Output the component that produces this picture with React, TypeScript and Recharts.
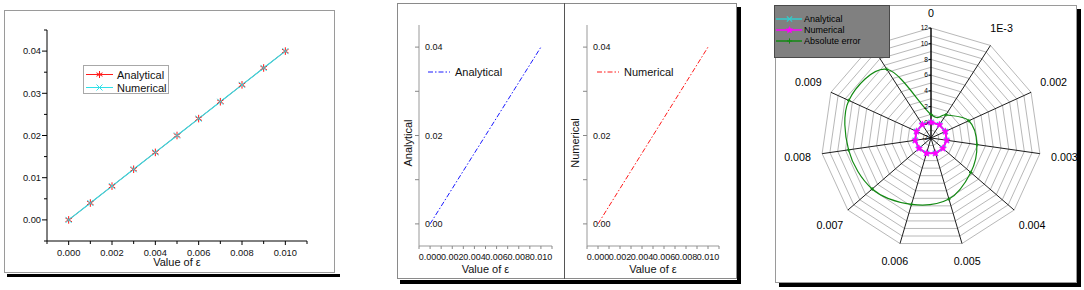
import React from 'react';
import {
  LineChart, Line, XAxis, YAxis, Legend,
  RadarChart, Radar, PolarGrid, PolarAngleAxis, PolarRadiusAxis,
} from 'recharts';

// ---------- data ----------
const epsValues = [0, 0.001, 0.002, 0.003, 0.004, 0.005, 0.006, 0.007, 0.008, 0.009, 0.01];
const analyticalValues = [0, 0.004, 0.008, 0.012, 0.016, 0.02, 0.024, 0.028, 0.032, 0.036, 0.04];
const numericalValues = [0, 0.004, 0.008, 0.012, 0.016, 0.02, 0.024, 0.028, 0.032, 0.036, 0.04];
const xTickValues = [-0.001, 0, 0.001, 0.002, 0.003, 0.004, 0.005, 0.006, 0.007, 0.008, 0.009, 0.01, 0.011];
const yTickValuesLeft = [-0.005, 0, 0.005, 0.01, 0.015, 0.02, 0.025, 0.03, 0.035, 0.04, 0.045];
const yTickValuesMid = [0, 0.01, 0.02, 0.03, 0.04];
const radarCategories = ['0', '1E-3', '0.002', '0.003', '0.004', '0.005', '0.006', '0.007', '0.008', '0.009', '0.01'];
const radarAnalytical = [0, 0.004, 0.008, 0.012, 0.016, 0.02, 0.024, 0.028, 0.032, 0.036, 0.04];
const radarNumerical = [0, 0.004, 0.008, 0.012, 0.016, 0.02, 0.024, 0.028, 0.032, 0.036, 0.04];
const radarAbsError = [1.0, 1.5, 3.3, 3.9, 4.7, 6.1, 6.8, 7.9, 8.6, 9.5, 8.4];

const lineData = epsValues.map((e, i) => ({ eps: e, analytical: analyticalValues[i], numerical: numericalValues[i] }));
const radarData = radarCategories.map((c, i) => ({
  cat: c, analytical: radarAnalytical[i], numerical: radarNumerical[i], absError: radarAbsError[i],
}));

const FONT = '"Liberation Sans", Arial, Helvetica, sans-serif';
const RED = '#ff1a1a';
const CYAN = '#2fe0e8';
const RCYAN = '#33cccc';
const MAGENTA = '#ff00ff';
const GREEN = '#138a13';

// ---------- markers ----------
const Asterisk = ({ cx, cy, r = 4, color = RED }: any) => (
  <g stroke={color} strokeWidth={1}>
    <line x1={cx} y1={cy - r} x2={cx} y2={cy + r} />
    <line x1={cx - r * 0.87} y1={cy - r / 2} x2={cx + r * 0.87} y2={cy + r / 2} />
    <line x1={cx - r * 0.87} y1={cy + r / 2} x2={cx + r * 0.87} y2={cy - r / 2} />
  </g>
);
const Cross = ({ cx, cy, r = 3.2, color = CYAN, w = 1 }: any) => (
  <g stroke={color} strokeWidth={w}>
    <line x1={cx - r} y1={cy - r} x2={cx + r} y2={cy + r} />
    <line x1={cx - r} y1={cy + r} x2={cx + r} y2={cy - r} />
  </g>
);
const Plus = ({ cx, cy, r = 2.5, color = GREEN }: any) => (
  <g stroke={color} strokeWidth={1}>
    <line x1={cx - r} y1={cy} x2={cx + r} y2={cy} />
    <line x1={cx} y1={cy - r} x2={cx} y2={cy + r} />
  </g>
);
const Star = ({ cx, cy, r = 3.6, color = MAGENTA }: any) => {
  const pts: string[] = [];
  for (let k = 0; k < 10; k++) {
    const rr = k % 2 === 0 ? r : r * 0.45;
    const a = (-90 + k * 36) * Math.PI / 180;
    pts.push(`${cx + rr * Math.cos(a)},${cy + rr * Math.sin(a)}`);
  }
  return <polygon points={pts.join(' ')} fill={color} stroke={color} strokeWidth={0.6} />;
};

// ---------- ticks panel 1 ----------
const isMajorX = (v: number) => { const k = Math.round(v * 1000); return k >= 0 && k <= 10 && k % 2 === 0; };
const XTick1 = (props: any) => {
  const { x, y, payload } = props;
  const major = isMajorX(payload.value);
  return (
    <g>
      <line x1={x} y1={y} x2={x} y2={y + (major ? 4 : 3)} stroke="#000" />
      {major && (
        <text x={x} y={y + 14.5} textAnchor="middle" fontSize={9.3} fontFamily={FONT} fill="#111">
          {payload.value.toFixed(3)}
        </text>
      )}
    </g>
  );
};
const YTick1 = (props: any) => {
  const { x, y, payload } = props;
  const k = Math.round(payload.value * 1000);
  const major = k >= 0 && k <= 40 && k % 10 === 0;
  return (
    <g>
      <line x1={x} y1={y} x2={x - (major ? 5 : 3)} y2={y} stroke="#000" />
      {major && (
        <text x={x - 6} y={y + 3.3} textAnchor="end" fontSize={9.3} fontFamily={FONT} fill="#111">
          {payload.value.toFixed(2)}
        </text>
      )}
    </g>
  );
};

// ---------- ticks panel 2 ----------
const XTick2 = (props: any) => {
  const { x, y, payload } = props;
  const major = isMajorX(payload.value);
  return (
    <g>
      <line x1={x} y1={y} x2={x} y2={y + 3} stroke="#888" />
      {major && (
        <text x={x} y={y + 14} textAnchor="middle" fontSize={9} fontFamily={FONT} fill="#111">
          {payload.value.toFixed(3)}
        </text>
      )}
    </g>
  );
};
const YTick2 = (props: any) => {
  const { x, y, payload } = props;
  const k = Math.round(payload.value * 1000);
  const labeled = k % 20 === 0;
  return (
    <g>
      <line x1={x} y1={y} x2={x - 4} y2={y} stroke="#888" />
      {labeled && (
        <text x={x + 6} y={y + 3.2} textAnchor="start" fontSize={9} fontFamily={FONT} fill="#111">
          {payload.value.toFixed(2)}
        </text>
      )}
    </g>
  );
};

const xTitle = (dyBase: number) => (props: any) => {
  const vb = props.viewBox || {};
  return (
    <text x={vb.x + vb.width / 2} y={vb.y + dyBase} textAnchor="middle" fontSize={11} fontFamily={FONT} fill="#111">
      Value of ε
    </text>
  );
};
const yTitle = (text: string) => (props: any) => {
  const vb = props.viewBox || {};
  const cx = vb.x + 10.5;
  const cy = vb.y + vb.height / 2 + 7.5;
  return (
    <text x={cx} y={cy + 4} transform={`rotate(-90 ${cx} ${cy})`} textAnchor="middle" fontSize={11} fontFamily={FONT} fill="#111">
      {text}
    </text>
  );
};

// ---------- radar ticks ----------
const charW: Record<string, number> = { '.': 0.278, E: 0.667, '-': 0.333 };
const textWidth = (s: string, fs: number) => s.split('').reduce((a, ch) => a + (charW[ch] ?? 0.556), 0) * fs;

const AngleTick = (props: any) => {
  const { x, y, payload } = props;
  const a = (payload.coordinate * Math.PI) / 180;
  const dx = Math.cos(a);
  const dy = -Math.sin(a);
  const fs = 10.7;
  const label = String(payload.value);
  const w = textWidth(label, fs);
  const h = fs * 0.75;
  const push = 3 + Math.abs(dx) * w / 2 + Math.abs(dy) * h / 2;
  return (
    <text x={x + dx * push} y={y + dy * push + fs * 0.36} textAnchor="middle" fontSize={fs} fontFamily={FONT} fill="#000">
      {label}
    </text>
  );
};
const RadiusTick = (props: any) => {
  const { x, y, payload } = props;
  const v = Math.round(payload.value);
  if (v % 2 !== 0) return <g />;
  return (
    <g>
      <line x1={x - 2.5} y1={y} x2={x} y2={y} stroke="#000" />
      <text x={x - 3} y={y + 2.3} textAnchor="end" fontSize={6.6} fontFamily={FONT} fill="#000">{v}</text>
    </g>
  );
};

const smoothShape = (props: any) => {
  const pts: { x: number; y: number }[] = props.points || [];
  const n = pts.length;
  if (!n) return <g />;
  let d = `M${pts[0].x},${pts[0].y}`;
  for (let i = 0; i < n; i++) {
    const p0 = pts[(i - 1 + n) % n];
    const p1 = pts[i];
    const p2 = pts[(i + 1) % n];
    const p3 = pts[(i + 2) % n];
    const c1x = p1.x + (p2.x - p0.x) / 6;
    const c1y = p1.y + (p2.y - p0.y) / 6;
    const c2x = p2.x - (p3.x - p1.x) / 6;
    const c2y = p2.y - (p3.y - p1.y) / 6;
    d += ` C${c1x},${c1y} ${c2x},${c2y} ${p2.x},${p2.y}`;
  }
  d += ' Z';
  return <path d={d} fill="none" stroke={GREEN} strokeWidth={1.2} />;
};

// ---------- legends ----------
const Legend1 = () => (
  <svg width={86} height={29} style={{ display: 'block' }}>
    <rect x={0.5} y={0.5} width={85} height={28} fill="#fff" stroke="#a8a8a8" />
    <line x1={3} y1={9.5} x2={30} y2={9.5} stroke={RED} />
    <Asterisk cx={16.5} cy={9.5} r={3.5} />
    <text x={34} y={13.5} fontSize={11} fontFamily={FONT} fill="#111">Analytical</text>
    <line x1={3} y1={22.5} x2={30} y2={22.5} stroke={CYAN} />
    <Cross cx={16.5} cy={22.5} r={3} />
    <text x={34} y={26.5} fontSize={11} fontFamily={FONT} fill="#111">Numerical</text>
  </svg>
);
const Legend2 = ({ text, color }: any) => (
  <svg width={110} height={14} style={{ display: 'block' }}>
    <line x1={0} y1={7} x2={22} y2={7} stroke={color} strokeDasharray="5 2 1.5 2" />
    <text x={27} y={11} fontSize={11} fontFamily={FONT} fill="#111">{text}</text>
  </svg>
);
const Legend3 = () => (
  <svg width={116} height={53} style={{ display: 'block' }}>
    <rect x={0.5} y={0.5} width={115} height={52} fill="#808080" stroke="#4a4a4a" />
    <line x1={2} y1={14} x2={28} y2={14} stroke={RCYAN} strokeWidth={1.5} />
    <Cross cx={15.5} cy={14} r={2.6} color={RCYAN} w={1.2} />
    <text x={30} y={17.2} fontSize={9} fontFamily={FONT} fill="#000">Analytical</text>
    <line x1={2} y1={25} x2={28} y2={25} stroke={MAGENTA} strokeWidth={1.5} />
    <Star cx={15.5} cy={25} r={3.4} />
    <text x={30} y={28.2} fontSize={9} fontFamily={FONT} fill="#000">Numerical</text>
    <line x1={2} y1={36} x2={28} y2={36} stroke={GREEN} strokeWidth={1.5} />
    <Plus cx={15.5} cy={36} r={2.6} />
    <text x={30} y={39.2} fontSize={9} fontFamily={FONT} fill="#000">Absolute error</text>
  </svg>
);

const abs = (s: React.CSSProperties): React.CSSProperties => ({ position: 'absolute', boxSizing: 'border-box', ...s });

export default function App() {
  return (
    <div style={{ position: 'fixed', left: 0, top: 0, width: 1084, height: 290, background: '#fff', overflow: 'hidden' }}>
      {/* frames */}
      <div style={abs({ left: 4, top: 10, width: 331, height: 263, border: '1px solid #9a9a9a' })} />
      <div style={abs({ left: 397, top: 3, width: 340, height: 276, border: '1px solid #8a8a8a' })} />
      <div style={abs({ left: 564, top: 3, width: 1, height: 276, background: '#555' })} />
      <div style={abs({ left: 775, top: 5, width: 302, height: 278, border: '1px solid #9a9a9a' })} />

      {/* panel 1 */}
      <div style={abs({ left: 0, top: 0, width: 340, height: 290 })}>
        <LineChart width={340} height={290} data={lineData} margin={{ top: 30, right: 33, bottom: 0, left: 0 }}>
          <XAxis dataKey="eps" type="number" domain={[-0.001, 0.011]} ticks={xTickValues} interval={0}
            height={49} tickSize={0} tickMargin={0} tickLine={false} axisLine={{ stroke: '#000' }}
            tick={(p: any) => <XTick1 {...p} />} label={xTitle(25)} />
          <YAxis type="number" domain={[-0.005, 0.045]} ticks={yTickValuesLeft} interval={0}
            width={47} tickSize={0} tickMargin={0} tickLine={false} axisLine={{ stroke: '#000' }}
            tick={(p: any) => <YTick1 {...p} />} />
          <Line type="linear" dataKey="analytical" stroke={RED} strokeWidth={1} isAnimationActive={false}
            dot={(p: any) => <Asterisk key={`a${p.index}`} cx={p.cx} cy={p.cy} r={3.8} />} />
          <Line type="linear" dataKey="numerical" stroke={CYAN} strokeWidth={1.2} isAnimationActive={false}
            dot={(p: any) => <Cross key={`n${p.index}`} cx={p.cx} cy={p.cy} r={3} />} />
          <Legend layout="vertical" align="center" verticalAlign="middle"
            wrapperStyle={{ left: 83, top: 65, width: 86, height: 29 }} content={() => <Legend1 />} />
        </LineChart>
      </div>

      {/* panel 2A */}
      <div style={abs({ left: 397, top: 3, width: 167, height: 275 })}>
        <LineChart width={167} height={275} data={lineData} margin={{ top: 22, right: 12, bottom: 0, left: 0 }}>
          <XAxis dataKey="eps" type="number" domain={[-0.001, 0.011]} ticks={xTickValues} interval={0}
            height={32} tickSize={0} tickMargin={0} tickLine={false} axisLine={{ stroke: '#999' }}
            tick={(p: any) => <XTick2 {...p} />} label={xTitle(27)} />
          <YAxis type="number" domain={[-0.005, 0.045]} ticks={yTickValuesMid} interval={0}
            width={22} tickSize={0} tickMargin={0} tickLine={false} axisLine={{ stroke: '#999' }}
            tick={(p: any) => <YTick2 {...p} />} label={yTitle('Analytical')} />
          <Line type="linear" dataKey="analytical" stroke="#1a1aff" strokeWidth={1} strokeDasharray="5 2 1.5 2"
            dot={false} isAnimationActive={false} />
          <Legend layout="vertical" align="center" verticalAlign="middle"
            wrapperStyle={{ left: 31, top: 62, width: 110, height: 14 }}
            content={() => <Legend2 text="Analytical" color="#1a1aff" />} />
        </LineChart>
      </div>

      {/* panel 2B */}
      <div style={abs({ left: 564, top: 3, width: 172, height: 275 })}>
        <LineChart width={172} height={275} data={lineData} margin={{ top: 22, right: 17, bottom: 0, left: 0 }}>
          <XAxis dataKey="eps" type="number" domain={[-0.001, 0.011]} ticks={xTickValues} interval={0}
            height={32} tickSize={0} tickMargin={0} tickLine={false} axisLine={{ stroke: '#999' }}
            tick={(p: any) => <XTick2 {...p} />} label={xTitle(27)} />
          <YAxis type="number" domain={[-0.005, 0.045]} ticks={yTickValuesMid} interval={0}
            width={23} tickSize={0} tickMargin={0} tickLine={false} axisLine={{ stroke: '#999' }}
            tick={(p: any) => <YTick2 {...p} />} label={yTitle('Numerical')} />
          <Line type="linear" dataKey="numerical" stroke="#ff1a1a" strokeWidth={1} strokeDasharray="5 2 1.5 2"
            dot={false} isAnimationActive={false} />
          <Legend layout="vertical" align="center" verticalAlign="middle"
            wrapperStyle={{ left: 33, top: 62, width: 110, height: 14 }}
            content={() => <Legend2 text="Numerical" color="#ff1a1a" />} />
        </LineChart>
      </div>

      {/* panel 3 radar */}
      <div style={abs({ left: 775, top: 5, width: 302, height: 278 })}>
        <RadarChart width={302} height={278} cx={156} cy={133} outerRadius={110} data={radarData}
          margin={{ top: 0, right: 0, bottom: 0, left: 0 }}>
          <PolarGrid radialLines={false} stroke="#b8b8b8" />
          <PolarGrid polarRadius={[]} stroke="#1e1e1e" />
          <PolarAngleAxis dataKey="cat" tickSize={8} tickLine={false} axisLine={false}
            tick={(p: any) => <AngleTick {...p} />} />
          <PolarRadiusAxis angle={90} type="number" domain={[-2, 12]} tickCount={15} stroke="#000"
            axisLine={{ stroke: '#000' }} tick={(p: any) => <RadiusTick {...p} />} />
          <Radar dataKey="analytical" stroke={RCYAN} strokeWidth={1.5} fill="none" fillOpacity={0}
            isAnimationActive={false}
            dot={(p: any) => <Cross key={`ra${p.index}`} cx={p.cx} cy={p.cy} r={2.6} color={RCYAN} w={1.2} />} />
          <Radar dataKey="numerical" stroke={MAGENTA} strokeWidth={2} fill="none" fillOpacity={0}
            isAnimationActive={false}
            dot={(p: any) => <Star key={`rn${p.index}`} cx={p.cx} cy={p.cy} r={3.6} />} />
          <Radar dataKey="absError" stroke={GREEN} fill="none" fillOpacity={0} isAnimationActive={false}
            shape={smoothShape}
            dot={(p: any) => <Plus key={`re${p.index}`} cx={p.cx} cy={p.cy} r={1.8} />} />
          <Legend layout="vertical" align="center" verticalAlign="middle"
            wrapperStyle={{ left: -1, top: 0, width: 116, height: 53 }} content={() => <Legend3 />} />
        </RadarChart>
      </div>

      {/* shadows */}
      <div style={abs({ left: 7, top: 274, width: 333, height: 3, background: '#000' })} />
      <div style={abs({ left: 737, top: 7, width: 4, height: 277, background: '#000' })} />
      <div style={abs({ left: 400, top: 280, width: 341, height: 4, background: '#000' })} />
      <div style={abs({ left: 1077, top: 9, width: 4, height: 278, background: '#000' })} />
      <div style={abs({ left: 779, top: 283, width: 302, height: 4, background: '#000' })} />
    </div>
  );
}
